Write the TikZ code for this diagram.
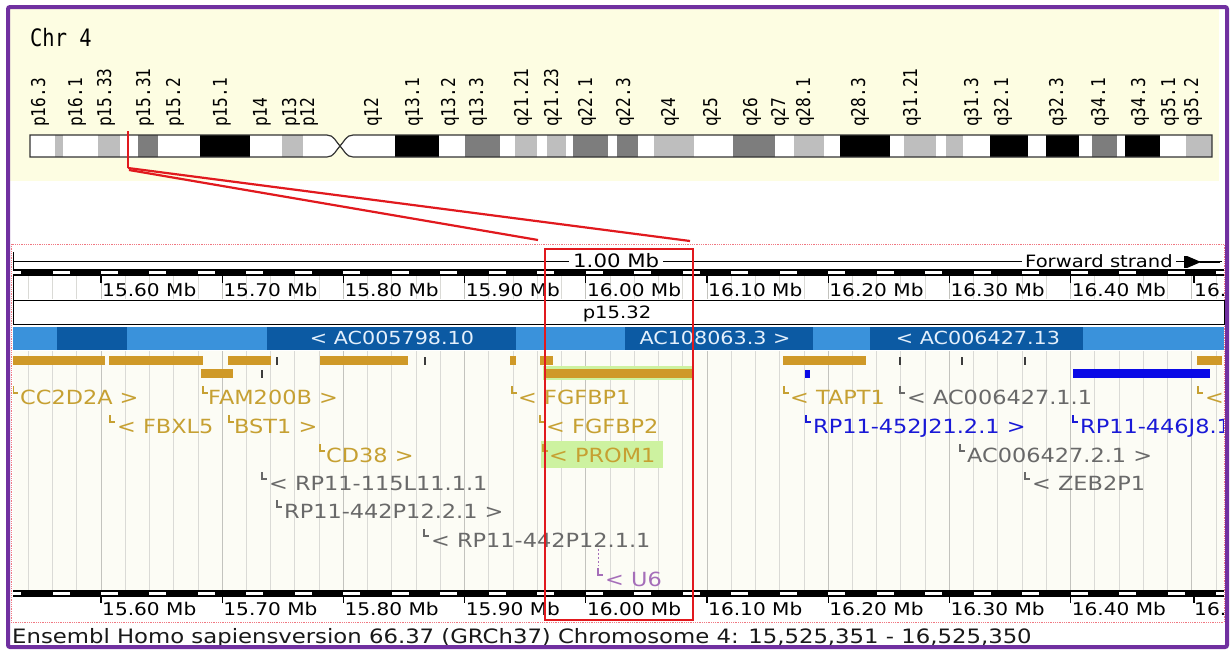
\documentclass[tikz,border=0pt]{standalone}
\usepackage{fontspec}
\newfontfamily\ens[FakeStretch=1.15]{DejaVu Sans}
\newfontfamily\monof[FakeStretch=0.85]{DejaVu Sans Mono}
\definecolor{frame}{RGB}{112,48,160}
\definecolor{panel}{RGB}{253,253,226}
\definecolor{lgray}{RGB}{190,190,190}
\definecolor{dgray}{RGB}{125,125,125}
\definecolor{zred}{RGB}{225,25,30}
\definecolor{pinkd}{RGB}{240,120,130}
\definecolor{cream}{RGB}{252,252,245}
\definecolor{gridc}{RGB}{218,218,214}
\definecolor{gridm}{RGB}{195,195,190}
\definecolor{lblue}{RGB}{58,146,219}
\definecolor{dblue}{RGB}{12,90,163}
\definecolor{ctext}{RGB}{228,240,252}
\definecolor{gold}{RGB}{207,153,40}
\definecolor{goldt}{RGB}{198,160,50}
\definecolor{grayt}{RGB}{105,105,105}
\definecolor{bluet}{RGB}{25,25,215}
\definecolor{bluebar}{RGB}{10,10,230}
\definecolor{purt}{RGB}{165,110,185}
\definecolor{hl}{RGB}{205,242,160}
\definecolor{tickc}{RGB}{60,60,60}
\tikzset{
 bandlab/.style={rotate=90, anchor=west, inner sep=0, font=\monof\fontsize{19}{19}\selectfont},
 rlab/.style={anchor=base west, inner sep=0, font=\ens\fontsize{17.5}{18}\selectfont},
 slab/.style={anchor=base west, inner sep=0, font=\ens\fontsize{17}{18}\selectfont},
 clab/.style={anchor=base, inner sep=0, text=ctext, font=\ens\fontsize{18}{19}\selectfont},
 glab/.style={anchor=base west, inner sep=0, font=\ens\fontsize{19.5}{20}\selectfont},
 tickmark/.style={draw=tickc, line width=1.5},
}
\newcommand\genelab[6]{%
  \draw[#5, line width=1.1] (#2,#3-11) -- (#2,#3-4) -- (#2+5,#3-4);
  \node (#1) [glab, text=#5] at (#4,#3+7) {#6};}
\begin{document}
\begin{tikzpicture}[x=1pt,y=-1pt]
\useasboundingbox (0,0) rectangle (1230,651);
\fill[white] (0,0) rectangle (1230,651);
% ---------- ideogram panel
\fill[panel] (10,9) rectangle (1219,181);
\node (chr) [anchor=base west, inner sep=0, font=\monof\fontsize{24}{24}\selectfont] at (30,46) {Chr 4};
\foreach \x/\t [count=\i] in {40/p16.3,77/p16.1,106/p15.33,145/p15.31,175/p15.2,222/p15.1,262/p14,291/p13,309/p12,373/q12,414/q13.1,450/q13.2,478/q13.3,523/q21.21,553/q21.23,587/q22.1,625/q22.3,670/q24,712/q25,752/q26,780/q27,805/q28.1,860/q28.3,912/q31.21,973/q31.3,1003/q32.1,1058/q32.3,1100/q34.1,1140/q34.3,1170/q35.1,1193/q35.2}
  \node (band\i) [bandlab] at (\x,127) {\t};
\def\parm{(30,135) -- (327,135) .. controls (334,135) and (336,142) .. (340,146) .. controls (336,150) and (334,157) .. (327,157) -- (30,157) -- cycle}
\def\qarm{(353,135) .. controls (346,135) and (344,142) .. (340,146) .. controls (344,150) and (346,157) .. (353,157) -- (1212,157) -- (1212,135) -- cycle}
\fill[white] \parm;
\fill[white] \qarm;
\begin{scope}
\clip \parm \qarm;
\foreach \a/\b/\c in {55/63/lgray,98/120/lgray,138/158/dgray,200/250/black,282/303/lgray,
 395/439/black,465/500/dgray,515/537/lgray,547/566/lgray,573/608/dgray,617/638/dgray,654/694/lgray,733/775/dgray,794/824/lgray,840/890/black,904/936/lgray,946/963/lgray,990/1028/black,1046/1079/black,1092/1117/dgray,1125/1160/black,1186/1212/lgray}
  \fill[\c] (\a,130) rectangle (\b,160);
\end{scope}
\draw[black!80, line width=1.2] \parm;
\draw[black!80, line width=1.2] \qarm;
% ---------- top ruler
\fill[cream] (13,351) rectangle (1224,590);
\foreach \k in {-3,...,46}{
  \pgfmathtruncatemacro\mm{mod(\k+100,5)}
  \ifnum\mm=0 \def\gc{gridm}\else\def\gc{gridc}\fi
  \draw[\gc, line width=0.9] ({101+24.24*\k},276) -- ({101+24.24*\k},299);
  \draw[\gc, line width=0.9] ({101+24.24*\k},351) -- ({101+24.24*\k},590);
}
\draw[pinkd, densely dotted, line width=0.8] (11,244) rectangle (1224,622);
\draw[black, line width=1] (13,252) -- (13,325);
\draw[black, line width=1] (13,261) -- (1222,261);
\node (scalelab) [slab, fill=white, inner xsep=4, font=\ens\fontsize{18.5}{19}\selectfont] at (569,267) {1.00 Mb};
\node (fwd) [slab, fill=white, inner xsep=3] at (1022,267) {Forward strand};
\fill (1184,256) rectangle (1187,268);
\fill (1187,256) -- (1201,262) -- (1187,268) -- cycle;
\draw[line width=2] (1200,262) -- (1220,262);
% top bar
\fill[black] (13,269) rectangle (1224,276);
\begin{scope}
\clip (13,269) rectangle (1224,276);
\foreach \k in {-2,...,24} \fill[white] ({101+48.48*\k},271) rectangle ({118+48.48*\k},274);
\end{scope}
\foreach \m/\t [count=\i] in {0/15.60,1/15.70,2/15.80,3/15.90,4/16.00,5/16.10,6/16.20,7/16.30,8/16.40}{
  \draw[black, line width=1.2] ({101+121.2*\m},276) -- ({101+121.2*\m},283);
  \node (rt\i) [rlab] at ({102+121.2*\m},296) {\t\ Mb};
}
\draw[black, line width=1.2] (1194,276) -- (1194,283);
\node (rt10) [rlab] at (1194,296) {16.};
% chromosome band box
\node (bandbox) [draw=black, line width=1, fill=white, minimum width=1211, minimum height=24, inner sep=0] at (618.5,312) {};
\node (bandname) [slab, anchor=base] at (617,318.5) {p15.32};
% contigs
\fill[lblue] (13,327) rectangle (1224,350);
\foreach \a/\b in {57/127,267/516,625/813,870/1083} \fill[dblue] (\a,327) rectangle (\b,350);
\node (ctg1) [clab] at (392,344.5) {< AC005798.10};
\node (ctg2) [clab] at (715,344.5) {AC108063.3 >};
\node (ctg3) [clab] at (978,344.5) {< AC006427.13};
% gene bars
\foreach \a/\b in {13/105,109/203,228/271,320/408,510/516,540/553,783/866,1197/1222}
  \fill[gold] (\a,356) rectangle (\b,365);
\fill[hl] (543,366) rectangle (694,380);
\foreach \a/\b in {201/233,545/692} \fill[gold] (\a,369) rectangle (\b,378);
\foreach \x in {277,425,900,962,1025} \draw[tickmark] (\x,357) -- (\x,365);
\draw[tickmark] (262,370) -- (262,378);
\fill[bluebar] (805,370) rectangle (810,378);
\fill[bluebar] (1073,369) rectangle (1210,378);
% gene labels
\fill[hl] (541,441) rectangle (663,468);
\begin{scope}
\clip (13,380) rectangle (1223,590);
\genelab{gCC}{13}{397}{20}{goldt}{CC2D2A >}
\genelab{gFAM}{203}{397}{208}{goldt}{FAM200B >}
\genelab{gFG1}{512}{397}{518}{goldt}{< FGFBP1}
\genelab{gTAP}{784}{397}{790}{goldt}{< TAPT1}
\genelab{gAC1}{900}{397}{907}{grayt}{< AC006427.1.1}
\genelab{gEnd}{1198}{397}{1205}{goldt}{<}
\genelab{gFBX}{110}{426}{117}{goldt}{< FBXL5}
\genelab{gBST}{229}{426}{234}{goldt}{BST1 >}
\genelab{gFG2}{540}{426}{546}{goldt}{< FGFBP2}
\genelab{gRPa}{806}{426}{813}{bluet}{RP11-452J21.2.1 >}
\genelab{gRPb}{1073}{426}{1080}{bluet}{RP11-446J8.1}
\genelab{gCD}{320}{455}{326}{goldt}{CD38 >}
\genelab{gPRO}{543}{455}{549}{goldt}{< PROM1}
\genelab{gAC2}{960}{455}{967}{grayt}{AC006427.2.1 >}
\genelab{gRPc}{262}{483}{269}{grayt}{< RP11-115L11.1.1}
\genelab{gZEB}{1025}{483}{1032}{grayt}{< ZEB2P1}
\genelab{gRPd}{277}{511}{284}{grayt}{RP11-442P12.2.1 >}
\genelab{gRPe}{424}{540}{431}{grayt}{< RP11-442P12.1.1}
\draw[purt, line width=1, dash pattern=on 2pt off 2pt] (598,549) -- (598,566);
\genelab{gU6}{598}{579}{605}{purt}{< U6}
\end{scope}
% bottom ruler
\fill[black] (13,590) rectangle (1224,597);
\begin{scope}
\clip (13,590) rectangle (1224,597);
\foreach \k in {-2,...,24} \fill[white] ({101+48.48*\k},592) rectangle ({118+48.48*\k},595);
\end{scope}
\foreach \m/\t [count=\i] in {0/15.60,1/15.70,2/15.80,3/15.90,4/16.00,5/16.10,6/16.20,7/16.30,8/16.40}{
  \draw[black, line width=1.2] ({101+121.2*\m},597) -- ({101+121.2*\m},603);
  \node (rb\i) [rlab] at ({102+121.2*\m},615) {\t\ Mb};
}
\draw[black, line width=1.2] (1194,597) -- (1194,603);
\node (rb10) [rlab] at (1194,615) {16.};
\node (footer) [glab, text=black!90, font=\ens\fontsize{19.8}{20}\selectfont] at (12,643) {Ensembl Homo sapiensversion 66.37 (GRCh37) Chromosome 4: 15,525,351 - 16,525,350};
% zoom indication
\coordinate (mk) at (128,168);
\coordinate (mk2) at (129,170);
\coordinate (zl) at (538,240);
\coordinate (zr) at (690,241);
\draw[zred, line width=1.8] (128,131) -- (mk);
\draw[zred, line width=2.2] (mk) -- (zr);
\draw[zred, line width=2.2] (mk2) -- (zl);
\draw[zred, line width=1.9] (545,249) rectangle (693,620);
% frame
\draw[frame, line width=4, rounded corners=2] (8,7) rectangle (1227,647);
\end{tikzpicture}
\end{document}
